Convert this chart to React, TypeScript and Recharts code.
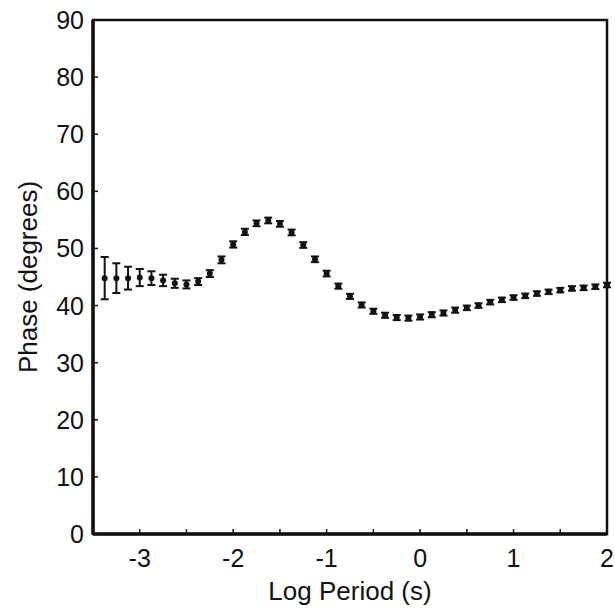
import { ScatterChart, Scatter, XAxis, YAxis, ErrorBar, ReferenceArea } from "recharts";

const logPeriod = [
  -3.375, -3.25, -3.125, -3.0, -2.875, -2.75, -2.625, -2.5, -2.375, -2.25, -2.125,
  -2.0, -1.875, -1.75, -1.625, -1.5, -1.375, -1.25, -1.125, -1.0, -0.875, -0.75,
  -0.625, -0.5, -0.375, -0.25, -0.125, 0.0, 0.125, 0.25, 0.375, 0.5, 0.625,
  0.75, 0.875, 1.0, 1.125, 1.25, 1.375, 1.5, 1.625, 1.75, 1.875, 2.0,
];

const phase = [
  44.8, 44.8, 44.8, 44.9, 44.8, 44.4, 43.9, 43.7, 44.2, 45.6, 48.0,
  50.7, 52.9, 54.4, 54.9, 54.3, 52.8, 50.6, 48.1, 45.6, 43.4, 41.6,
  40.1, 39.0, 38.3, 37.9, 37.8, 38.0, 38.4, 38.7, 39.2, 39.6, 40.0,
  40.6, 41.0, 41.4, 41.7, 42.1, 42.4, 42.7, 43.0, 43.1, 43.3, 43.6,
];

const phaseErr = [
  3.7, 2.6, 2.0, 1.5, 1.2, 1.0, 0.8, 0.7, 0.6, 0.6, 0.6,
  0.55, 0.55, 0.5, 0.5, 0.5, 0.5, 0.5, 0.5, 0.5, 0.45, 0.45,
  0.45, 0.45, 0.45, 0.45, 0.45, 0.45, 0.45, 0.45, 0.45, 0.4, 0.4,
  0.4, 0.4, 0.4, 0.4, 0.4, 0.4, 0.4, 0.4, 0.4, 0.4, 0.4,
];

const xTicks = [-3, -2.5, -2, -1.5, -1, -0.5, 0, 0.5, 1, 1.5, 2];
const yTicks = [0, 10, 20, 30, 40, 50, 60, 70, 80, 90];

const data = logPeriod.map((x, i) => ({ x, y: phase[i], err: phaseErr[i] }));

const FONT = '"Liberation Sans", Arial, sans-serif';
const INK = "#111";

const XTick = (props: any) => {
  const { x, y, payload } = props;
  const v = payload.value;
  return (
    <g>
      <line x1={x} x2={x} y1={y} y2={y - 5} stroke={INK} strokeWidth={1.5} />
      {Number.isInteger(v) && (
        <text x={x} y={y + 33} textAnchor="middle" fontSize={25} fontFamily={FONT} fill={INK}>
          {String(v)}
        </text>
      )}
    </g>
  );
};

const YTick = (props: any) => {
  const { x, y, payload } = props;
  return (
    <g>
      <line x1={x} x2={x + 5} y1={y} y2={y} stroke={INK} strokeWidth={1.5} />
      <text x={x - 9} y={y + 9} textAnchor="end" fontSize={25} fontFamily={FONT} fill={INK}>
        {String(payload.value)}
      </text>
    </g>
  );
};

const Dot = (props: any) => <circle cx={props.cx} cy={props.cy} r={3} fill={INK} />;

export default function App() {
  return (
    <div style={{ position: "absolute", left: 0, top: 0, width: 615, height: 608, background: "#fff" }}>
      <ScatterChart width={615} height={608} margin={{ top: 20, right: 8, bottom: 0, left: 0 }}>
        <XAxis
          type="number"
          dataKey="x"
          domain={[-3.5, 2]}
          ticks={xTicks}
          interval={0}
          height={74}
          tickSize={0}
          tickMargin={0}
          tick={<XTick />}
          axisLine={{ stroke: INK, strokeWidth: 3.5 }}
          label={{ value: "Log Period (s)", position: "insideBottom", offset: 8, fontSize: 26, fill: INK, fontFamily: FONT }}
        />
        <YAxis
          type="number"
          dataKey="y"
          domain={[0, 90]}
          ticks={yTicks}
          interval={0}
          width={93}
          tickSize={0}
          tickMargin={0}
          tick={<YTick />}
          axisLine={{ stroke: INK, strokeWidth: 3.5 }}
          label={{
            value: "Phase (degrees)",
            angle: -90,
            position: "insideLeft",
            offset: 28,
            fontSize: 26,
            fill: INK,
            fontFamily: FONT,
            style: { textAnchor: "middle" },
          }}
        />
        <ReferenceArea x1={-3.5} x2={2} y1={0} y2={90} fill="none" stroke={INK} strokeWidth={2.5} />
        <Scatter data={data} shape={<Dot />} isAnimationActive={false}>
          <ErrorBar dataKey="err" direction="y" width={4} stroke={INK} strokeWidth={2} />
        </Scatter>
      </ScatterChart>
    </div>
  );
}
